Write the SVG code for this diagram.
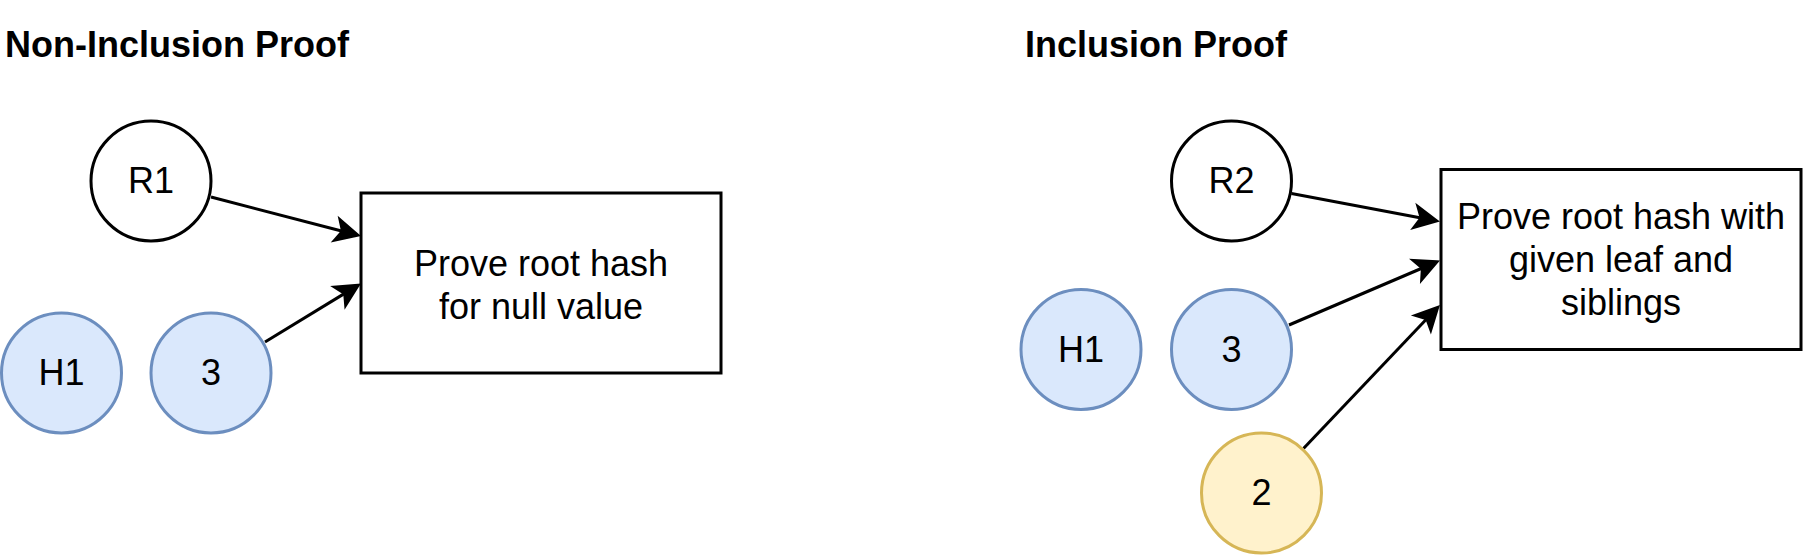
<svg xmlns="http://www.w3.org/2000/svg" width="1803" height="555" viewBox="0 0 1803 555">
  <style>
    text { font-family: "Liberation Sans", Arial, Helvetica, sans-serif; font-size: 36px; fill: #000; }
    .title { font-weight: bold; }
    .lbl { text-anchor: middle; }
    .plain { fill: #ffffff; stroke: #000000; stroke-width: 3; }
    .blue { fill: #dae8fc; stroke: #6c8ebf; stroke-width: 3; }
    .yellow { fill: #fff2cc; stroke: #d6b656; stroke-width: 3; }
    .box { fill: #ffffff; stroke: #000000; stroke-width: 3; }
    .edge { fill: none; stroke: #000000; stroke-width: 3; marker-end: url(#arrow); }
  </style>
  <defs>
    <marker id="arrow" markerUnits="userSpaceOnUse" viewBox="-10 -15 30 30" markerWidth="30" markerHeight="30" refX="0" refY="0" orient="auto" overflow="visible">
      <path d="M 15.75 0 L -5.25 -10.5 L 0 0 L -5.25 10.5 Z" fill="#000" stroke="#000" stroke-width="3"/>
    </marker>
  </defs>
  <rect width="1803" height="555" fill="#ffffff"/>

  <text class="title" x="5" y="57">Non-Inclusion Proof</text>
  <text class="title" x="1025" y="57">Inclusion Proof</text>

  <g id="connectors">
    <line class="edge" x1="211" y1="197" x2="342.5" y2="231.2"/>
    <line class="edge" x1="265" y1="342" x2="344.7" y2="293.4"/>
    <line class="edge" x1="1291.5" y1="193.5" x2="1421.2" y2="218"/>
    <line class="edge" x1="1289" y1="325" x2="1422.4" y2="268"/>
    <line class="edge" x1="1303.5" y1="448.5" x2="1426.8" y2="318.8"/>
  </g>

  <g id="R1">
    <circle class="plain" cx="151" cy="181" r="60"/>
    <text class="lbl" x="151" y="193">R1</text>
  </g>
  <g id="H1-left">
    <circle class="blue" cx="61.5" cy="373" r="60"/>
    <text class="lbl" x="61.5" y="385">H1</text>
  </g>
  <g id="n3-left">
    <circle class="blue" cx="211" cy="373" r="60"/>
    <text class="lbl" x="211" y="385">3</text>
  </g>
  <g id="box-left">
    <rect class="box" x="361" y="193" width="360" height="180"/>
    <text class="lbl" x="541" y="276">Prove root hash</text>
    <text class="lbl" x="541" y="319">for null value</text>
  </g>

  <g id="R2">
    <circle class="plain" cx="1231.5" cy="181" r="60"/>
    <text class="lbl" x="1231.5" y="193">R2</text>
  </g>
  <g id="H1-right">
    <circle class="blue" cx="1081" cy="349.5" r="60"/>
    <text class="lbl" x="1081" y="361.5">H1</text>
  </g>
  <g id="n3-right">
    <circle class="blue" cx="1231.5" cy="349.5" r="60"/>
    <text class="lbl" x="1231.5" y="361.5">3</text>
  </g>
  <g id="n2">
    <circle class="yellow" cx="1261.5" cy="493" r="60"/>
    <text class="lbl" x="1261.5" y="505">2</text>
  </g>
  <g id="box-right">
    <rect class="box" x="1441" y="169.5" width="360" height="180"/>
    <text class="lbl" x="1621" y="229">Prove root hash with</text>
    <text class="lbl" x="1621" y="272">given leaf and</text>
    <text class="lbl" x="1621" y="315">siblings</text>
  </g>
</svg>
